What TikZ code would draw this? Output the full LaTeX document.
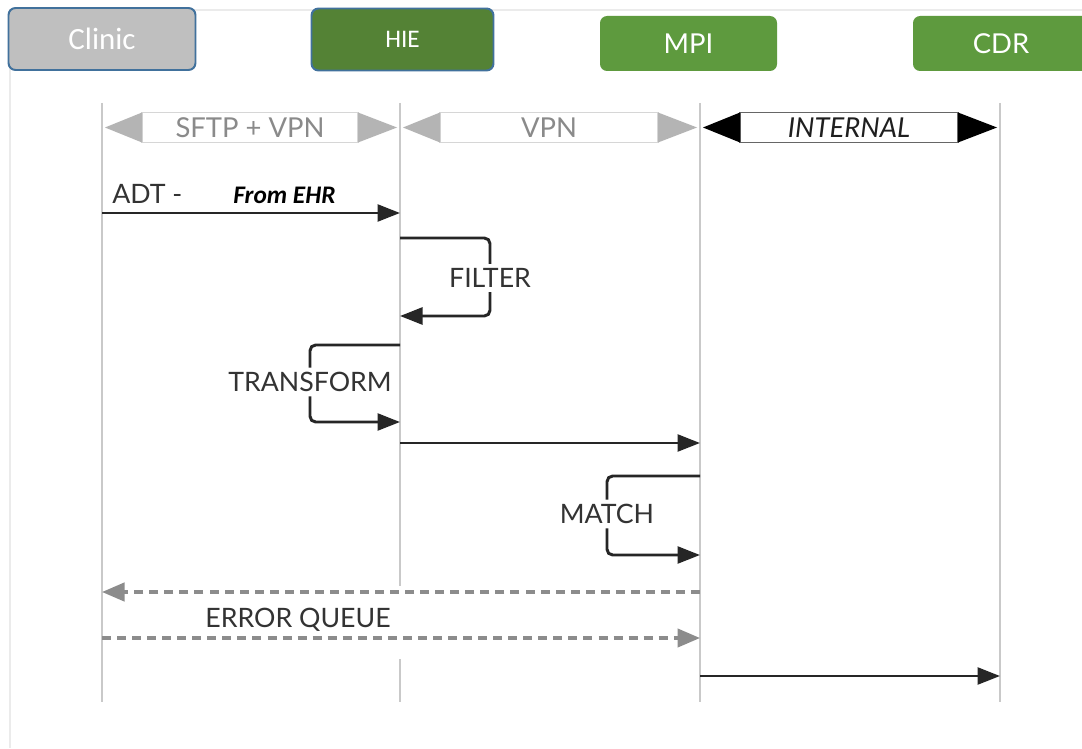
\documentclass[tikz,border=0pt]{standalone}
\usepackage{fontspec}
\setmainfont{Lato}
\newfontfamily\calibri{Carlito}
\usetikzlibrary{arrows.meta,positioning}

\definecolor{clinicgray}{HTML}{BFBFBF}
\definecolor{hiegreen}{HTML}{548235}
\definecolor{sysgreen}{HTML}{5E9A3E}
\definecolor{boxblue}{HTML}{41719C}
\definecolor{lifegray}{HTML}{C9C9C9}
\definecolor{bandgray}{HTML}{B4B4B4}
\definecolor{bandedge}{HTML}{D6D6D6}
\definecolor{bandtext}{HTML}{8A8A8A}
\definecolor{msgblack}{HTML}{262626}
\definecolor{errgray}{HTML}{8C8C8C}
\definecolor{framegray}{HTML}{EBEBEB}

\tikzset{
    actor/.style={rounded corners=5pt,text=white,inner sep=0pt},
    life/.style={lifegray,line width=1.6pt},
    msg/.style={msgblack,line width=2.1pt,-{Triangle[length=16pt,width=12pt]}},
    loopline/.style={msgblack,line width=2.1pt,rounded corners=4pt},
    err/.style={errgray,line width=2.4pt,dash pattern=on 6.4pt off 4.3pt,
        -{Triangle[length=16pt,width=13pt]}},
    lbl/.style={text=black!80,font=\fontsize{19}{22}\selectfont,inner sep=3pt},
}

\begin{document}
\begin{tikzpicture}[x=0.025cm,y=-0.025cm]
\clip (0,0) rectangle (1082,748);
\fill[white] (0,0) rectangle (1082,748);
\draw[framegray,line width=0.8pt] (10,748) -- (10,10) -- (1082,10);

% systems on top
\node[actor,fill=clinicgray,draw=boxblue,line width=1.4pt,minimum width=187*0.025cm,
    minimum height=62*0.025cm,font=\calibri\fontsize{22}{26}\selectfont] (clinic) at (102,39) {Clinic};
\node[actor,fill=hiegreen,draw=boxblue,line width=1.4pt,minimum width=182*0.025cm,
    minimum height=62*0.025cm,font=\calibri\fontsize{18}{21}\selectfont] (hie) at (402.5,39.5) {HIE};
\node[actor,fill=sysgreen,minimum width=177*0.025cm,minimum height=55*0.025cm,
    font=\fontsize{19.5}{22}\selectfont] (mpi) at (688.5,43.5) {MPI};
\node[actor,fill=sysgreen,minimum width=176*0.025cm,minimum height=55*0.025cm,
    font=\fontsize{19.5}{22}\selectfont] (cdr) at (1001,43.5) {CDR};

% lifelines
\foreach \n/\x in {clinic/102,hie/400,mpi/700,cdr/1000}
  {
    \coordinate (\n-t) at (\x,103);
    \coordinate (\n-b) at (\x,702);
  }
\draw[life] (clinic-t) -- (clinic-b);
\draw[life] (hie-t) -- (hie-t |- 0,586);
\draw[life] (hie-t |- 0,659) -- (hie-b);
\draw[life] (mpi-t) -- (mpi-b);
\draw[life] (cdr-t) -- (cdr-b);

% channel bands between lifelines
\foreach \xa/\xb/\lbl/\tipcol/\edgecol/\txtcol in
    {102/400/{SFTP + VPN}/bandgray/bandedge/bandtext,
     400/700/VPN/bandgray/bandedge/bandtext,
     700/1000/{\itshape INTERNAL}/black/black!60/black!88}
  {
    \draw[\edgecol,fill=white,line width=0.8pt] (\xa+40,112.5) rectangle (\xb-42,142.5);
    \fill[\tipcol] (\xa+3,127.5) -- (\xa+40,112.5) -- (\xa+40,142.5) -- cycle;
    \fill[\tipcol] (\xb-3,127.5) -- (\xb-42,112.5) -- (\xb-42,142.5) -- cycle;
    \node[text=\txtcol,font=\fontsize{19.5}{22}\selectfont] at ({(\xa+\xb)/2-1},127.5) {\lbl};
  }

% messages
\draw[msg] (clinic-t |- 0,213) -- (hie-t |- 0,213);
\node[lbl,anchor=base west,inner sep=0pt] (adt) at (112,203) {ADT -};
\node[anchor=base west,font=\calibri\bfseries\itshape\fontsize{18}{21}\selectfont,inner sep=0pt]
    (ehr) at (233,203) {From EHR};

\node[lbl] (filter) at (490,278) {FILTER};
\draw[loopline] (hie-t |- 0,238) -| (filter.north);
\draw[loopline,-{Triangle[length=16pt,width=12pt]}] (filter.south) |- (hie-t |- 0,316);

\node[lbl] (transform) at (310,382) {TRANSFORM};
\draw[loopline] (hie-t |- 0,345) -| (transform.north);
\draw[loopline,-{Triangle[length=16pt,width=12pt]}] (transform.south) |- (hie-t |- 0,422);

\draw[msg] (hie-t |- 0,443) -- (mpi-t |- 0,443);

\node[lbl] (match) at (607,514) {MATCH};
\draw[loopline] (mpi-t |- 0,476) -| (match.north);
\draw[loopline,-{Triangle[length=16pt,width=12pt]}] (match.south) |- (mpi-t |- 0,555);

% error queue
\draw[err] (mpi-t |- 0,592) -- (clinic-t |- 0,592);
\node[lbl] (errq) at (298,620) {ERROR QUEUE};
\draw[err] (clinic-t |- 0,638) -- (mpi-t |- 0,638);

\draw[msg] (mpi-t |- 0,676) -- (cdr-t |- 0,676);
\end{tikzpicture}
\end{document}
